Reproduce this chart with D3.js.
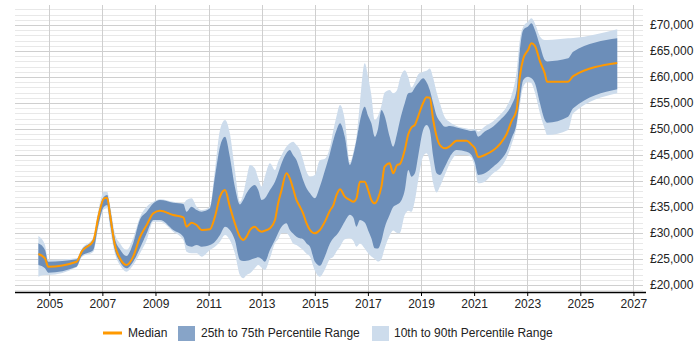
<!DOCTYPE html>
<html>
<head>
<meta charset="utf-8">
<script src="https://cdn.jsdelivr.net/npm/d3@7"></script>
<style>
  html, body { margin: 0; padding: 0; background: #fff; }
  svg { display: block; font-family: "Liberation Sans", Arial, sans-serif; }
</style>
</head>
<body>
<svg id="chart" width="700" height="350"></svg>
<script>
// ---- Data (decimal years) ----
const dates = [2004.59,2004.84,2004.96,2006.03,2006.22,2006.66,2006.85,2007.06,2007.18,2007.29,
  2007.47,2007.66,2007.91,2008.16,2008.41,2008.67,2008.92,2009.17,2009.67,2010.05,
  2010.17,2010.36,2010.55,2010.74,2011.05,2011.24,2011.43,2011.62,2011.80,2011.99,
  2012.18,2012.31,2012.43,2012.56,2012.74,2012.87,2013.00,2013.12,2013.31,2013.50,
  2013.62,2013.75,2013.93,2014.06,2014.18,2014.31,2014.44,2014.56,2014.69,2014.82,
  2015.00,2015.19,2015.38,2015.57,2015.70,2015.82,2015.95,2016.13,2016.32,2016.45,
  2016.57,2016.70,2016.88,2017.01,2017.13,2017.26,2017.38,2017.51,2017.63,2017.82,
  2017.95,2018.10,2018.20,2018.39,2018.52,2018.64,2018.77,2018.89,2019.08,2019.21,
  2019.33,2019.46,2019.59,2019.71,2019.90,2020.09,2020.34,2020.72,2020.90,2021.03,
  2021.15,2021.40,2021.72,2021.97,2022.22,2022.41,2022.60,2022.72,2022.85,2023.03,
  2023.16,2023.29,2023.48,2023.66,2023.75,2024.54,2024.73,2026.39];

const p10 = [21600,21920,21920,23400,25330,26400,31100,34550,34740,30900,
  26090,23850,22560,23850,26000,28650,32180,32180,30250,28650,
  26400,26090,26090,25450,26730,27370,28330,29610,28650,26090,
  21920,21280,21900,22240,23210,23850,23300,22880,25130,28020,
  28800,29940,29940,29200,28000,27690,27200,26730,26000,25450,
  22800,21600,23000,25000,25450,26500,27370,28800,29000,28500,
  27370,28000,27000,26090,25500,25000,24500,25000,27000,29500,
  30500,30000,29940,33500,34300,34100,36300,40000,44680,45320,
  43700,39500,37800,38900,41200,43400,45000,45000,44500,42500,
  39550,39870,41480,42430,44360,47000,50500,54500,58140,59100,
  58780,57000,53000,50000,48840,49810,53010,56860];

const p25 = [23850,23210,22370,23520,25580,26730,31540,35060,35380,31860,
  26730,24480,23210,24480,27000,29940,32500,32500,30580,29290,
  27690,27370,27690,27370,27690,28330,29610,31220,30580,28650,
  24810,24600,24650,24810,25130,25350,25000,24480,26730,28650,
  30000,31200,31860,30580,29900,29300,28980,28800,28000,27370,
  24500,23700,25500,28000,29000,29600,30580,32200,33500,33000,
  31220,32500,32000,30500,29000,27050,27000,28500,31000,33500,
  35000,35500,35800,38270,42110,40830,41480,44680,49810,50770,
  49810,44680,41480,41150,42750,44680,45960,45640,45000,43500,
  41150,41480,42750,43900,45640,48200,51090,55580,59420,60060,
  59740,58780,54930,51730,51220,52370,53970,57630];

const median = [25960,25130,23520,24480,26400,28520,33140,36670,36800,33460,
  27690,25130,23850,25450,29100,31540,33790,34290,33460,33010,
  31220,31990,31540,30580,30710,33140,36990,38270,35060,31860,
  29290,28650,29290,30580,31220,30580,30250,30450,30900,32500,
  35710,38270,41480,40510,38590,36350,35060,33790,31860,30580,
  29940,30580,32180,34300,35380,37310,38400,36990,36350,36020,
  36670,39870,39870,38270,36350,35710,36670,38910,42750,43400,
  41480,43080,43250,46000,49000,50300,50800,52400,55000,56100,
  56000,51730,48520,46920,46280,46700,47750,47750,47000,46300,
  44600,45000,45900,47100,49000,51500,53650,60000,63500,65190,
  66470,66000,63000,60700,59100,59100,60190,62700];

const p75 = [28020,26730,24480,24940,26730,28790,33790,36990,37300,34740,
  28980,26860,25580,28020,32500,34100,35710,36350,35830,35580,
  34100,35060,34420,34100,34740,40830,46600,48520,44680,38910,
  35500,36400,37630,38590,39230,38270,36350,36670,38270,39870,
  41480,43400,45320,45960,45000,44040,42110,40190,38590,37630,
  36670,38900,42000,45300,47880,49800,51090,48520,43100,45000,
  47880,51500,54290,52500,51090,48500,50000,53650,52500,48500,
  46600,49170,51500,55000,56860,57000,58000,58780,59750,59000,
  57500,54900,52500,51500,50450,50600,50300,49800,49600,49700,
  48520,49500,50500,51700,53010,54600,57500,65000,69040,69700,
  70320,69040,66000,63270,63000,63590,64870,67440];

const p90 = [29420,27690,24810,25130,26920,29170,34420,37940,37940,35380,
  29940,28020,26730,28980,33000,35060,36030,36500,36000,35710,
  36350,36670,35060,34420,35060,42110,49810,51730,49170,42110,
  36000,37600,40510,43080,42430,40510,38910,40830,43400,42110,
  43720,45000,46600,47240,47560,46920,45960,44040,41790,40830,
  41150,44000,44300,46500,49810,52500,54610,51730,43600,45500,
  48500,54930,62630,60000,56500,51730,52500,54500,57000,57500,
  56860,57500,59500,61300,60000,58000,59000,60500,61020,61200,
  61660,59800,57000,55000,52200,51300,50600,50100,49900,50000,
  49500,50500,51500,52690,54300,56500,61000,67000,69680,70640,
  71280,70300,67800,67110,67110,67440,67500,69170];

const xTicks = [2005,2007,2009,2011,2013,2015,2017,2019,2021,2023,2025,2027];
const yTicks = [20000,25000,30000,35000,40000,45000,50000,55000,60000,65000,70000];
const legendLabels = ["Median","25th to 75th Percentile Range","10th to 90th Percentile Range"];

// ---- Chart ----
const svg = d3.select("#chart");
const plotLeft = 15, plotRight = 643, plotTop = 5, plotBottom = 292;
const x = d3.scaleLinear().domain([2003.71, 2027.36]).range([plotLeft, plotRight]);
const y = d3.scaleLinear().domain([18650, 73850]).range([plotBottom, plotTop]);

const darkBand = "#6c8eb9";
const lightBand = "#cddcec";
const darkLegend = "#87a4c8";
const orange = "#ff9900";

svg.append("rect").attr("width",700).attr("height",350).attr("fill","#fff");

// horizontal gridlines: minor every 1000, major every 5000
const minor = d3.range(19000, 73001, 1000).filter(v => v % 5000 !== 0);
svg.append("g").selectAll("line").data(minor).join("line")
  .attr("x1", plotLeft).attr("x2", plotRight)
  .attr("y1", d => Math.round(y(d)) + 0.5).attr("y2", d => Math.round(y(d)) + 0.5)
  .attr("stroke", "#e8e8e8").attr("stroke-width", 1);
svg.append("g").selectAll("line").data(yTicks).join("line")
  .attr("x1", plotLeft).attr("x2", plotRight)
  .attr("y1", d => Math.round(y(d)) + 0.5).attr("y2", d => Math.round(y(d)) + 0.5)
  .attr("stroke", "#cfcfcf").attr("stroke-width", 1);
// vertical gridlines
svg.append("g").selectAll("line").data(xTicks).join("line")
  .attr("x1", d => Math.round(x(d)) + 0.5).attr("x2", d => Math.round(x(d)) + 0.5)
  .attr("y1", plotTop).attr("y2", plotBottom)
  .attr("stroke", "#cfcfcf").attr("stroke-width", 1);

const rows = dates.map((d, i) => ({d, p10: p10[i], p25: p25[i], m: median[i], p75: p75[i], p90: p90[i]}));
const curve = d3.curveMonotoneX;

svg.append("path").datum(rows)
  .attr("d", d3.area().curve(curve).x(r => x(r.d)).y0(r => y(r.p10)).y1(r => y(r.p90)))
  .attr("fill", lightBand);
svg.append("path").datum(rows)
  .attr("d", d3.area().curve(curve).x(r => x(r.d)).y0(r => y(r.p25)).y1(r => y(r.p75)))
  .attr("fill", darkBand);
svg.append("path").datum(rows)
  .attr("d", d3.line().curve(curve).x(r => x(r.d)).y(r => y(r.m)))
  .attr("fill", "none").attr("stroke", orange).attr("stroke-width", 2)
  .attr("stroke-linejoin", "round");

// x axis
const xAxis = svg.append("g").attr("transform", `translate(0,${plotBottom})`)
  .call(d3.axisBottom(x).tickValues(xTicks).tickFormat(d3.format("d")).tickSize(4).tickSizeOuter(0));
xAxis.select(".domain").remove();
xAxis.append("line").attr("x1", plotLeft).attr("x2", 646).attr("y1", 0.5).attr("y2", 0.5)
  .attr("stroke", "#000").attr("stroke-width", 1.5);
xAxis.selectAll(".tick line").attr("stroke", "#000");
xAxis.selectAll("text").attr("font-size", 12).attr("fill", "#222")
  .attr("font-family", "'Liberation Sans', Arial, sans-serif");

// y axis (right)
const yAxis = svg.append("g").attr("transform", `translate(${plotRight},0)`)
  .call(d3.axisRight(y).tickValues(yTicks).tickFormat(v => "£" + d3.format(",")(v)).tickSize(0).tickPadding(7));
yAxis.select(".domain").remove();
yAxis.selectAll("text").attr("font-size", 12).attr("fill", "#222")
  .attr("font-family", "'Liberation Sans', Arial, sans-serif");

// legend
const lg = svg.append("g").attr("font-size", 12).attr("fill", "#222");
lg.append("line").attr("x1", 103).attr("x2", 122).attr("y1", 333).attr("y2", 333)
  .attr("stroke", orange).attr("stroke-width", 3);
lg.append("text").attr("x", 128).attr("y", 337).text(legendLabels[0]);
lg.append("rect").attr("x", 178).attr("y", 326).attr("width", 17).attr("height", 15)
  .attr("fill", darkLegend);
lg.append("text").attr("x", 201).attr("y", 337).text(legendLabels[1]);
lg.append("rect").attr("x", 372).attr("y", 326).attr("width", 17).attr("height", 15)
  .attr("fill", lightBand);
lg.append("text").attr("x", 394).attr("y", 337).text(legendLabels[2]);
</script>
</body>
</html>
